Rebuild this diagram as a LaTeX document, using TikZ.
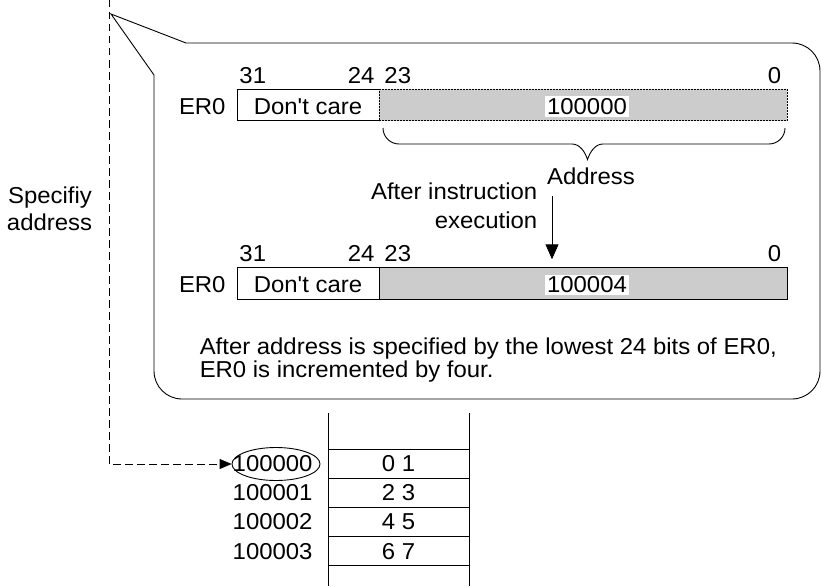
\documentclass[tikz,border=0pt]{standalone}
\usepackage{fontspec}
\setmainfont{Liberation Sans}[FakeStretch=1.04, Ligatures=TeXOff]
\usetikzlibrary{arrows.meta,shapes.geometric}
\definecolor{regfill}{HTML}{CCCCCC}

\begin{document}
\begin{tikzpicture}[x=1pt,y=1pt,line width=0.9pt,
  every node/.style={font=\fontsize{23pt}{27pt}\selectfont, inner sep=0pt},
  lbl/.style={anchor=base},
  lblw/.style={anchor=base west},
  lble/.style={anchor=base east},
  plaincell/.style={draw, fill=white, minimum height=31.5pt},
  shadecell/.style={draw, fill=regfill, minimum height=31.5pt},
  valuetag/.style={anchor=base, fill=white, inner sep=2pt},
  memcell/.style={draw, minimum width=141pt, minimum height=29.1pt},
  addrlbl/.style={anchor=east},
  tipsolid/.style={-{Triangle[length=15pt,width=13pt]}},
  pointer/.style={dash pattern=on 7.5pt off 4.5pt, -{Triangle[length=12pt,width=10pt]}}
]
\useasboundingbox (0,0) rectangle (821,-586);

% callout balloon
\draw[fill=white] (111,-14) -- (186,-43) -- (792,-43)
  arc[start angle=90,end angle=0,radius=28] -- (820,-371)
  arc[start angle=0,end angle=-90,radius=28] -- (182,-399)
  arc[start angle=270,end angle=180,radius=28] -- (154,-75) -- cycle;

% register before execution
\node[plaincell, minimum width=142pt] (dc1) at (308,-105) {};
\node[shadecell, minimum width=408pt, dash pattern=on 2pt off 1pt] (ad1) at (583,-105) {};
\node[lble] (er1) at (226,-114.3) {ER0};
\node[lbl] (dct1) at (308,-114.3) {Don't care};
\node[valuetag] (v1) at (587,-114.3) {100000};
\node[lblw] (b31a) at (239,-83.3) {31};
\node[lble] (b24a) at (375,-83.3) {24};
\node[lblw] (b23a) at (384,-83.3) {23};
\node[lble] (b0a) at (781.7,-83.3) {0};

% brace over the low 24 bits
\draw (383,-128) arc[start angle=180,end angle=270,radius=16] -- (572,-144)
  .. controls (580,-144) and (585,-152) .. (587.5,-159.5)
  .. controls (590,-152) and (595,-144) .. (603,-144) -- (769,-144)
  arc[start angle=270,end angle=360,radius=16];
\node[lblw] (addr) at (546.7,-184) {Address};

% execution step
\node[lble] (ex1) at (537.7,-199.3) {After instruction};
\node[lble] (ex2) at (537.7,-228.3) {execution};
\coordinate (arrS) at (552,-196);
\coordinate (arrE) at (552,-259.3);
\draw[tipsolid] (arrS) -- (arrE);

% register after execution
\node[plaincell, minimum width=142pt] (dc2) at (308,-283.5) {};
\node[shadecell, minimum width=408pt] (ad2) at (583,-283.5) {};
\node[lble] (er2) at (226,-292.8) {ER0};
\node[lbl] (dct2) at (308,-292.8) {Don't care};
\node[valuetag] (v2) at (587,-292.8) {100004};
\node[lblw] (b31b) at (239,-261.8) {31};
\node[lble] (b24b) at (375,-261.8) {24};
\node[lblw] (b23b) at (384,-261.8) {23};
\node[lble] (b0b) at (781.7,-261.8) {0};

% note
\node[lblw] (n1) at (199.3,-354.3) {After address is specified by the lowest 24 bits of ER0,};
\node[lblw] (n2) at (199.3,-377.7) {ER0 is incremented by four.};

% side label
\node[lbl] (sp1) at (50,-203.3) {Specifiy};
\node[lbl] (sp2) at (49.5,-230) {address};

% memory
\draw (328,-413) -- (328,-586);
\draw (469,-413) -- (469,-586);
\node[memcell] (m0) at (398.5,-463.85) {0 1};
\node[memcell] (m1) at (398.5,-492.95) {2 3};
\node[memcell] (m2) at (398.5,-522.05) {4 5};
\node[memcell] (m3) at (398.5,-551.15) {6 7};
\node[draw, ellipse, minimum width=88pt, minimum height=33pt] (ring) at (276,-464) {};
\node[addrlbl] (a0) at (313,-463.85) {100000};
\node[addrlbl] (a1) at (313,-492.95) {100001};
\node[addrlbl] (a2) at (313,-522.05) {100002};
\node[addrlbl] (a3) at (313,-551.15) {100003};

% address pointer
\coordinate (dtop) at (109,0);
\draw[pointer] (dtop) |- (ring.west);
\end{tikzpicture}
\end{document}
